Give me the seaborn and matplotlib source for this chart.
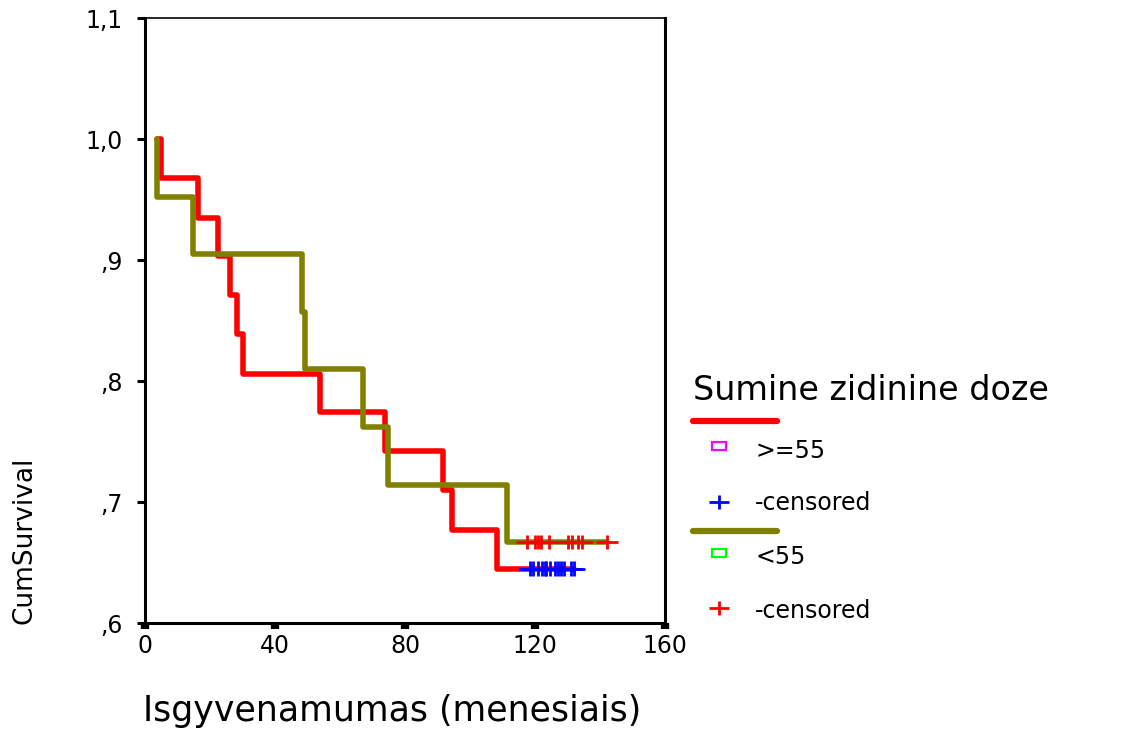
import seaborn as sns
import matplotlib.pyplot as plt
from matplotlib.path import Path
from matplotlib.lines import Line2D
from matplotlib.patches import Rectangle

# group ">=55": step times (months) and cumulative survival
ge55_time = [3.7, 5.0, 16.3, 22.5, 26.0, 28.3, 30.0, 53.8, 73.8, 91.7, 94.5, 108.3]
ge55_surv = [1.0, 0.968, 0.935, 0.903, 0.871, 0.839, 0.806, 0.774, 0.742, 0.710, 0.677, 0.645]
ge55_cens = [118.5, 119.5, 121.0, 122.0, 123.0, 123.5, 124.5, 126.0, 127.0, 128.0, 129.0, 131.0, 132.0]

# group "<55"
lt55_time = [3.8, 3.8, 14.7, 48.2, 49.2, 67.0, 74.8, 111.4]
lt55_surv = [1.0, 0.952, 0.905, 0.857, 0.810, 0.762, 0.714, 0.667]
lt55_cens = [117.5, 120.0, 121.0, 121.8, 124.3, 130.0, 131.5, 133.3, 134.5, 142.2]

x_ticks = [0, 40, 80, 120, 160]
y_ticks = [0.6, 0.7, 0.8, 0.9, 1.0, 1.1]
y_tick_labels = [",6", ",7", ",8", ",9", "1,0", "1,1"]

RED = "#ff0000"
OLIVE = "#808000"
BLUE = "#0000ff"

sns.set_style("white")
plt.rcParams["font.family"] = ["DejaVu Sans"]
plt.rcParams["text.color"] = "black"
plt.rcParams["xtick.color"] = "black"
plt.rcParams["ytick.color"] = "black"

W, H = 1131, 731
def fx(px):
    return px / W
def fy(py):
    return 1 - py / H

fig = plt.figure(figsize=(W / 100, H / 100), dpi=100)
ax = fig.add_axes([fx(145), fy(623), 520 / W, 605 / H])

# wide "+" used for censored cases
plus = Path([(-1.5, 0), (1.5, 0), (0, -1), (0, 1)],
            [Path.MOVETO, Path.LINETO, Path.MOVETO, Path.LINETO])

# survival steps, extended up to the last censored case
sns.lineplot(x=ge55_time + [max(ge55_cens)], y=ge55_surv + [ge55_surv[-1]],
             drawstyle="steps-post", estimator=None, sort=False,
             color=RED, linewidth=4, ax=ax)
sns.lineplot(x=lt55_time + [max(lt55_cens)], y=lt55_surv + [lt55_surv[-1]],
             drawstyle="steps-post", estimator=None, sort=False,
             color=OLIVE, linewidth=4, ax=ax)

sns.scatterplot(x=ge55_cens, y=[ge55_surv[-1]] * len(ge55_cens), marker=plus,
                s=250, facecolor="none", edgecolor=BLUE, linewidth=2, ax=ax, zorder=5)
sns.scatterplot(x=lt55_cens, y=[lt55_surv[-1]] * len(lt55_cens), marker=plus,
                s=250, facecolor="none", edgecolor=RED, linewidth=2, ax=ax, zorder=5)

ax.set_xlim(0, 160)
ax.set_ylim(0.6, 1.1)
ax.set_xticks(x_ticks)
ax.set_xticklabels([str(t) for t in x_ticks], fontsize=17)
ax.set_yticks(y_ticks)
ax.set_yticklabels(y_tick_labels, fontsize=17)
ax.tick_params(axis="x", bottom=True, direction="out", length=4, width=6, pad=4, color="black")
ax.tick_params(axis="y", left=True, direction="out", length=6, width=2.2, pad=10, color="black")
for side in ["left", "bottom", "right"]:
    ax.spines[side].set_linewidth(2.2)
    ax.spines[side].set_color("black")
ax.spines["top"].set_linewidth(1.2)
ax.spines["top"].set_color("black")
ax.set_xlabel("")
ax.set_ylabel("")

fig.text(fx(143), fy(721), "Isgyvenamumas (menesiais)", fontsize=25, ha="left", va="baseline")
fig.text(fx(25), fy(540), "CumSurvival", fontsize=19, rotation=90, ha="center", va="center")

# legend
fig.text(fx(693), fy(390), "Sumine zidinine doze", fontsize=24, ha="left", va="center")
fig.add_artist(Line2D([fx(693), fx(777)], [fy(421), fy(421)], color=RED, linewidth=4.5,
                      transform=fig.transFigure))
fig.add_artist(Line2D([fx(693), fx(777)], [fy(531), fy(531)], color=OLIVE, linewidth=4.5,
                      transform=fig.transFigure))
fig.add_artist(Rectangle((fx(712), fy(450)), 14 / W, 8 / H, fill=False, edgecolor="#ff00ff",
                         linewidth=1.6, transform=fig.transFigure))
fig.add_artist(Rectangle((fx(712), fy(557)), 14 / W, 8 / H, fill=False, edgecolor="#00ff00",
                         linewidth=1.6, transform=fig.transFigure))
fig.add_artist(Line2D([fx(719)], [fy(502)], marker=plus, markersize=15, markeredgewidth=2,
                      color=BLUE, linestyle="none", transform=fig.transFigure))
fig.add_artist(Line2D([fx(719)], [fy(608)], marker=plus, markersize=15, markeredgewidth=2,
                      color=RED, linestyle="none", transform=fig.transFigure))
fig.text(fx(755), fy(451), ">=55", fontsize=17, ha="left", va="center")
fig.text(fx(755), fy(503), "-censored", fontsize=17, ha="left", va="center")
fig.text(fx(755), fy(557), "<55", fontsize=17, ha="left", va="center")
fig.text(fx(755), fy(611), "-censored", fontsize=17, ha="left", va="center")

fig.savefig("out.png", dpi=100, facecolor="white")
